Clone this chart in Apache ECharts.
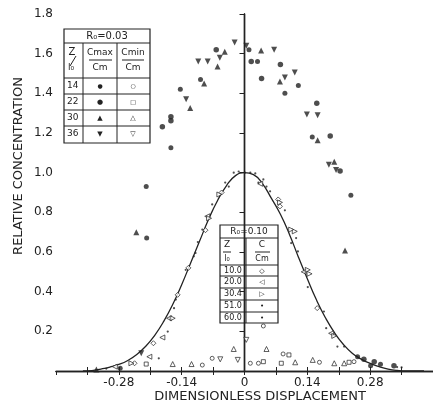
<!DOCTYPE html>
<html>
<head>
<meta charset="utf-8">
<script src="https://cdn.jsdelivr.net/npm/echarts@6/dist/echarts.min.js"></script>
<style>
  html, body { margin: 0; padding: 0; background: #fff; }
  #chart { width: 433px; height: 408px; }
</style>
</head>
<body>
<div id="chart"></div>
<script>
// tick labels
const xTicks = [-0.28, -0.14, 0, 0.14, 0.28];
const xTickText = ['-0.28', '-0.14', '0', '0.14', '0.28'];
const yTicks = [0.2, 0.4, 0.6, 0.8, 1.0, 1.2, 1.4, 1.6, 1.8];
const yTickText = ['0.2', '0.4', '0.6', '0.8', '1.0', '1.2', '1.4', '1.6', '1.8'];

// theoretical curve
const curveX = [-0.36, -0.34, -0.32, -0.30, -0.28, -0.26, -0.24, -0.22, -0.20, -0.18, -0.16, -0.14, -0.12, -0.10, -0.08, -0.06, -0.04, -0.02,
  0, 0.02, 0.04, 0.06, 0.08, 0.10, 0.12, 0.14, 0.16, 0.18, 0.20, 0.22, 0.24, 0.26, 0.28, 0.30, 0.32, 0.34, 0.36, 0.40];
const curveY = [0, 0.002, 0.01, 0.02, 0.033, 0.053, 0.083, 0.125, 0.18, 0.25, 0.335, 0.435, 0.545, 0.655, 0.765, 0.86, 0.935, 0.985,
  1.0, 0.99, 0.945, 0.87, 0.79, 0.69, 0.575, 0.465, 0.36, 0.27, 0.195, 0.135, 0.09, 0.06, 0.038, 0.022, 0.01, 0.003, 0, 0];

// R0 = 0.03, Cmax / Cm
const cmax14 = [[-0.218, 0.67], [-0.219, 0.93], [-0.164, 1.126], [-0.143, 1.42], [-0.098, 1.47], [0.010, 1.62], [0.029, 1.56],
  [0.090, 1.40], [0.120, 1.44], [0.151, 1.18], [0.237, 0.886], [0.252, 0.072], [0.281, 0.027], [0.303, 0.034], [-0.277, 0.014]];
const cmax22 = [[-0.183, 1.232], [-0.164, 1.262], [-0.164, 1.282], [-0.063, 1.62], [0.015, 1.56], [0.038, 1.475], [0.080, 1.545],
  [0.161, 1.35], [0.191, 1.185], [0.213, 1.008], [0.266, 0.059], [0.289, 0.047], [0.333, 0.027]];
const cmax30 = [[-0.241, 0.70], [-0.121, 1.326], [-0.090, 1.45], [-0.060, 1.535], [-0.044, 1.61], [0.037, 1.616], [0.079, 1.46],
  [0.163, 1.163], [0.200, 1.055], [0.224, 0.607], [-0.330, 0.008]];
const cmax36 = [[-0.230, 0.089], [-0.130, 1.37], [-0.103, 1.56], [-0.082, 1.56], [-0.055, 1.58], [-0.022, 1.656], [0.004, 1.64],
  [0.066, 1.62], [0.090, 1.48], [0.112, 1.505], [0.139, 1.293], [0.163, 1.29], [0.188, 1.04], [0.204, 1.013]];

// R0 = 0.03, Cmin / Cm
const cmin14 = [[-0.094, 0.03], [0.042, 0.227], [0.031, 0.039], [0.013, 0.039], [0.086, 0.086], [0.167, 0.044], [0.244, 0.047], [-0.072, 0.064]];
const cmin22 = [[-0.219, 0.035], [0.082, 0.039], [0.099, 0.081], [0.042, 0.047], [0.233, 0.044]];
const cmin30 = [[-0.160, 0.035], [-0.118, 0.035], [-0.024, 0.111], [0.049, 0.111], [0.113, 0.044], [0.152, 0.056], [0.200, 0.039], [0.222, 0.039]];
const cmin36 = [[0.004, 0.157], [-0.015, 0.056], [-0.054, 0.059]];

// R0 = 0.10, C / Cm
const r100 = [[-0.087, 0.71], [-0.125, 0.52], [-0.149, 0.384], [-0.203, 0.14], [0.162, 0.317], [0.075, 0.865], [-0.051, 0.90], [0.079, 0.83], [-0.245, 0.039]];
const r200 = [[-0.212, 0.072], [-0.168, 0.266], [-0.183, 0.169], [0.132, 0.50], [0.193, 0.19], [-0.083, 0.78], [0.035, 0.944], [-0.289, 0.022]];
const r304 = [[0.112, 0.704], [0.145, 0.49], [0.200, 0.177], [-0.079, 0.77], [-0.160, 0.266], [0.104, 0.713], [-0.252, 0.039], [0.079, 0.85], [-0.056, 0.89], [0.141, 0.51]];
const r510 = [[-0.109, 0.595], [-0.157, 0.317], [-0.171, 0.199], [-0.191, 0.064], [0.090, 0.81], [0.104, 0.645], [0.119, 0.603], [0.141, 0.423],
  [0.177, 0.30], [0.182, 0.216], [0.207, 0.123], [-0.035, 0.93], [0.042, 0.966], [-0.094, 0.713], [-0.013, 1.006], [0.013, 1.0]];
const r600 = [[-0.131, 0.51], [-0.153, 0.36], [-0.072, 0.84], [0.049, 0.93], [0.057, 0.906], [0.222, 0.123], [-0.024, 1.0], [0.001, 1.0],
  [0.024, 0.996], [0.031, 0.95], [-0.043, 0.95], [-0.113, 0.578], [0.115, 0.67], [-0.104, 0.65], [0.34, 0.02], [0.35, 0.018], [-0.308, 0.012]];

const ink = '#222';
const font = 'DejaVu Sans';

const filled = (data, symbol, size, rotate) => ({
  type: 'scatter', data, symbol, symbolSize: size, symbolRotate: rotate || 0,
  itemStyle: { color: ink }, silent: true, z: 4
});
const open = (data, symbol, size, rotate) => ({
  type: 'scatter', data, symbol, symbolSize: size, symbolRotate: rotate || 0,
  itemStyle: { color: '#fff', borderColor: ink, borderWidth: 0.9 }, silent: true, z: 3
});

const chart = echarts.init(document.getElementById('chart'));

const txt = (text, x, y, size, align) => ({
  type: 'text', x, y, silent: true,
  style: { text, fill: ink, font: (size || 10) + 'px ' + font, align: align || 'center', verticalAlign: 'middle' }
});
const ln = (x1, y1, x2, y2) => ({
  type: 'line', silent: true, shape: { x1, y1, x2, y2 }, style: { stroke: ink, lineWidth: 1 }
});

// legend tables
const t1 = [
  { type: 'rect', silent: true, shape: { x: 64, y: 29, width: 86, height: 114 }, style: { fill: '#fff', stroke: ink, lineWidth: 1.2 } },
  ln(64, 43, 150, 43), ln(64, 78, 150, 78), ln(64, 94, 150, 94), ln(64, 110, 150, 110), ln(64, 126, 150, 126),
  ln(83, 43, 83, 143), ln(117, 43, 117, 143),
  txt('R\u2080=0.03', 107, 36, 10),
  txt('Z', 72, 52, 10), ln(70, 66, 76, 56), txt('l\u2080', 71, 68, 9),
  txt('Cmax', 100, 53, 9), ln(89, 60, 112, 60), txt('Cm', 100, 68, 9),
  txt('Cmin', 133, 53, 9), ln(122, 60, 144, 60), txt('Cm', 133, 68, 9),
  txt('14', 67, 86, 9, 'left'), txt('22', 67, 102, 9, 'left'), txt('30', 67, 118, 9, 'left'), txt('36', 67, 134, 9, 'left'),
  txt('\u25CF', 100, 86, 6), txt('\u25CF', 100, 102, 7), txt('\u25B2', 100, 118, 7), txt('\u25BC', 100, 134, 7),
  txt('\u25CB', 133, 86, 6), txt('\u25A1', 133, 102, 6), txt('\u25B3', 133, 118, 7), txt('\u25BD', 133, 134, 7)
];
const t2 = [
  { type: 'rect', silent: true, shape: { x: 220, y: 225, width: 58, height: 98 }, style: { fill: '#fff', stroke: ink, lineWidth: 1.2 } },
  ln(220, 238, 278, 238), ln(220, 265, 278, 265), ln(220, 276, 278, 276), ln(220, 288, 278, 288), ln(220, 300, 278, 300), ln(220, 312, 278, 312),
  ln(246, 238, 246, 323),
  txt('R\u2080=0.10', 249, 232, 9),
  txt('Z', 227, 245, 9), ln(223, 252, 231, 252), txt('l\u2080', 227, 259, 8),
  txt('C', 262, 245, 9), ln(255, 252, 270, 252), txt('Cm', 262, 259, 8),
  txt('10.0', 233, 271, 8), txt('20.0', 233, 282, 8), txt('30.4', 233, 294, 8), txt('51.0', 233, 306, 8), txt('60.0', 233, 318, 8),
  txt('\u25C7', 262, 271, 7), txt('\u25C1', 262, 282, 7), txt('\u25B7', 262, 294, 7), txt('\u2022', 262, 306, 7), txt('\u2022', 262, 318, 7)
];

const option = {
  animation: false,
  backgroundColor: '#fff',
  grid: { left: 56, top: 14, width: 381, height: 357 },
  xAxis: [
    {
      type: 'value', min: -0.42, max: 0.42, interval: 0.07, position: 'bottom',
      axisLine: { lineStyle: { color: ink, width: 1.4 } },
      axisTick: { inside: true, length: 4, lineStyle: { color: ink } },
      splitLine: { show: false },
      axisLabel: {
        color: ink, fontFamily: font, fontSize: 12, margin: 6, showMinLabel: false, showMaxLabel: false,
        formatter: v => { const i = xTicks.findIndex(t => Math.abs(t - v) < 1e-6); return i >= 0 ? xTickText[i] : ''; }
      }
    },
    {
      type: 'value', min: -0.42, max: 0.42, interval: 0.07, position: 'top',
      axisLine: { lineStyle: { color: ink, width: 1.4 } },
      axisTick: { inside: true, length: 4, lineStyle: { color: ink } },
      splitLine: { show: false }, axisLabel: { show: false }
    }
  ],
  yAxis: [
    {
      type: 'value', min: 0, max: 1.8, interval: 0.2, position: 'left',
      axisLine: { show: true, lineStyle: { color: ink, width: 1.4 } },
      axisTick: { show: true, length: 5, lineStyle: { color: ink } },
      splitLine: { show: false },
      axisLabel: {
        color: ink, fontFamily: font, fontSize: 12, margin: 3,
        formatter: v => { const i = yTicks.findIndex(t => Math.abs(t - v) < 1e-6); return i >= 0 ? yTickText[i] : ''; }
      }
    },
    {
      type: 'value', min: 0, max: 1.8, interval: 0.2, position: 'right',
      axisLine: { show: true, lineStyle: { color: ink, width: 1.4 } },
      axisTick: { show: true, inside: true, length: 4, lineStyle: { color: ink } },
      splitLine: { show: false }, axisLabel: { show: false }
    }
  ],
  graphic: [
    {
      type: 'text', x: 19, y: 166, rotation: Math.PI / 2, silent: true,
      style: { text: 'RELATIVE CONCENTRATION', fill: ink, font: '13px ' + font, align: 'center', verticalAlign: 'middle' }
    },
    txt('DIMENSIONLESS DISPLACEMENT', 260, 397, 13),
    ...t1, ...t2
  ],
  series: [
    {
      type: 'line', data: curveX.map((x, i) => [x, curveY[i]]), smooth: true, showSymbol: false, silent: true,
      lineStyle: { color: ink, width: 1.3 }, z: 2
    },
    filled(cmax14, 'circle', 5),
    filled(cmax22, 'circle', 5.5),
    filled(cmax30, 'triangle', 6),
    filled(cmax36, 'triangle', 6, 180),
    open(cmin14, 'circle', 4),
    open(cmin22, 'rect', 4),
    open(cmin30, 'triangle', 5),
    open(cmin36, 'triangle', 5, 180),
    open(r100, 'diamond', 5),
    open(r200, 'triangle', 5, 90),
    open(r304, 'triangle', 5, -90),
    filled(r510, 'circle', 2.2),
    filled(r600, 'circle', 2.2)
  ]
};

chart.setOption(option);
</script>
</body>
</html>
